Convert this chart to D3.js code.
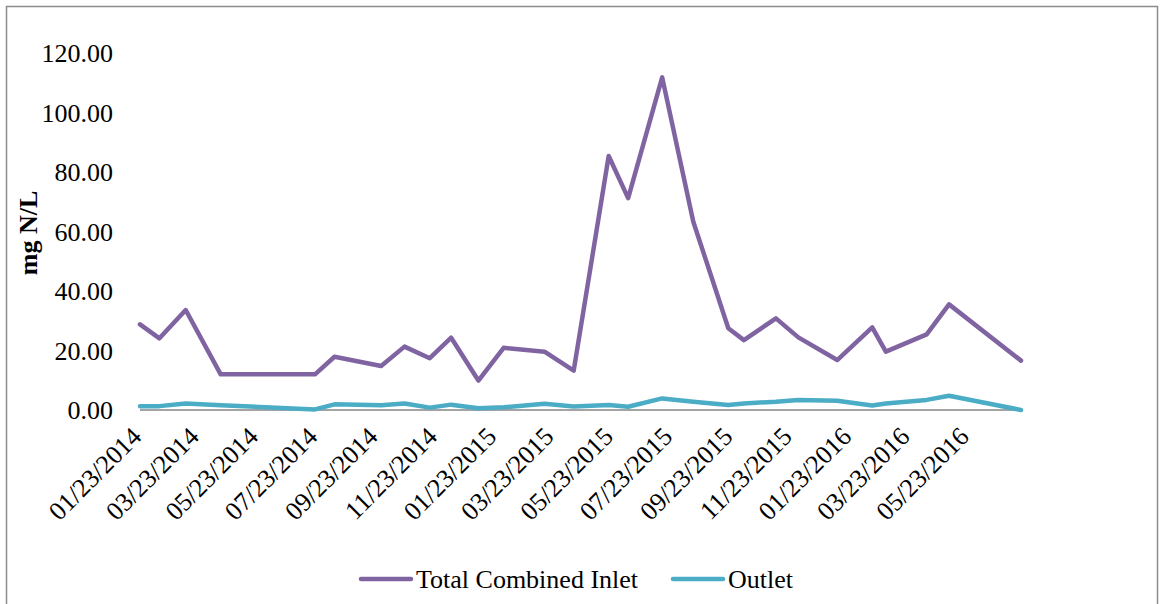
<!DOCTYPE html>
<html>
<head>
<meta charset="utf-8">
<script src="https://cdn.jsdelivr.net/npm/d3@7"></script>
<style>
  html, body { margin: 0; padding: 0; background: #fff; }
  svg { display: block; font-family: "Liberation Serif", "DejaVu Serif", serif; }
  .tick-label { font-size: 26px; fill: #000; }
  .axis-title { font-size: 26px; font-weight: bold; fill: #000; }
  .legend-label { font-size: 26px; fill: #000; }
</style>
</head>
<body>
<svg id="chart" width="1160" height="604"></svg>
<script>
// ── Data (sample dates, mg N/L) ──
const sampleDates = [
  "2014-01-23", "2014-02-12", "2014-03-11", "2014-04-16", "2014-07-22",
  "2014-08-11", "2014-09-28", "2014-10-22", "2014-11-17", "2014-12-09",
  "2015-01-06", "2015-02-01", "2015-03-15", "2015-04-14", "2015-05-20",
  "2015-06-09", "2015-07-14", "2015-08-15", "2015-09-20", "2015-10-06",
  "2015-11-08", "2015-12-01", "2016-01-10", "2016-02-15", "2016-02-29",
  "2016-04-11", "2016-05-04", "2016-07-17"
];

const inletValues = [
  28.8, 24.1, 33.6, 12.0, 12.0,
  17.9, 14.8, 21.3, 17.4, 24.3,
  9.9, 20.9, 19.6, 13.2, 85.4,
  71.2, 111.8, 63.3, 27.5, 23.5,
  30.8, 24.4, 16.8, 27.8, 19.6,
  25.4, 35.5, 16.6
];

const outletValues = [
  1.3, 1.3, 2.2, 1.6, 0.2,
  1.9, 1.6, 2.2, 0.8, 1.8,
  0.6, 0.9, 2.1, 1.2, 1.7,
  1.1, 3.9, 2.8, 1.7, 2.2,
  2.8, 3.4, 3.1, 1.5, 2.2,
  3.4, 4.8, 0.0
];

const xTickLabels = [
  "01/23/2014", "03/23/2014", "05/23/2014", "07/23/2014", "09/23/2014",
  "11/23/2014", "01/23/2015", "03/23/2015", "05/23/2015", "07/23/2015",
  "09/23/2015", "11/23/2015", "01/23/2016", "03/23/2016", "05/23/2016"
];

const yTicks = [0, 20, 40, 60, 80, 100, 120];

const seriesNames = ["Total Combined Inlet", "Outlet"];
const seriesColors = ["#8064a2", "#4bacc6"];

// ── Setup ──
const svg = d3.select("#chart");
const parseISO = d3.utcParse("%Y-%m-%d");
const parseUS = d3.utcParse("%m/%d/%Y");

// chart border
svg.append("rect")
  .attr("x", 6.5).attr("y", 6.5)
  .attr("width", 1151).attr("height", 620)
  .attr("fill", "none")
  .attr("stroke", "#8c8c8c")
  .attr("stroke-width", 1.5);

const x = d3.scaleUtc()
  .domain([parseISO(sampleDates[0]), parseISO(sampleDates[sampleDates.length - 1])])
  .range([140, 1021]);

const y = d3.scaleLinear()
  .domain([0, 120])
  .range([410, 53]);

// ── Y axis labels (no axis line) ──
svg.append("g")
  .selectAll("text")
  .data(yTicks)
  .join("text")
  .attr("class", "tick-label")
  .attr("x", 113)
  .attr("y", d => y(d))
  .attr("dy", "0.35em")
  .attr("text-anchor", "end")
  .text(d => d3.format(".2f")(d));

svg.append("text")
  .attr("class", "axis-title")
  .attr("transform", "translate(37,233) rotate(-90)")
  .attr("text-anchor", "middle")
  .text("mg N/L");

// ── X axis ──
svg.append("line")
  .attr("x1", x.range()[0]).attr("x2", x.range()[1])
  .attr("y1", y(0)).attr("y2", y(0))
  .attr("stroke", "#868686")
  .attr("stroke-width", 1.5);

svg.append("g")
  .selectAll("text")
  .data(xTickLabels)
  .join("text")
  .attr("class", "tick-label")
  .attr("text-anchor", "end")
  .attr("transform", d => `translate(${x(parseUS(d)) + 3},${y(0) + 28}) rotate(-45)`)
  .text(d => d);

// ── Lines ──
const line = d3.line()
  .x((d, i) => x(parseISO(sampleDates[i])))
  .y(d => y(d));

[inletValues, outletValues].forEach((vals, k) => {
  svg.append("path")
    .datum(vals)
    .attr("fill", "none")
    .attr("stroke", seriesColors[k])
    .attr("stroke-width", 4.5)
    .attr("stroke-linejoin", "round")
    .attr("stroke-linecap", "round")
    .attr("d", line);
});

// ── Legend ──
const legendItems = [
  { name: seriesNames[0], color: seriesColors[0], x: 361 },
  { name: seriesNames[1], color: seriesColors[1], x: 673 }
];

const lg = svg.append("g")
  .selectAll("g")
  .data(legendItems)
  .join("g")
  .attr("transform", d => `translate(${d.x},579)`);

lg.append("line")
  .attr("x1", 0).attr("x2", 50)
  .attr("stroke", d => d.color)
  .attr("stroke-width", 4.5)
  .attr("stroke-linecap", "round");

lg.append("text")
  .attr("class", "legend-label")
  .attr("x", 55)
  .attr("dy", "0.35em")
  .text(d => d.name);
</script>
</body>
</html>
